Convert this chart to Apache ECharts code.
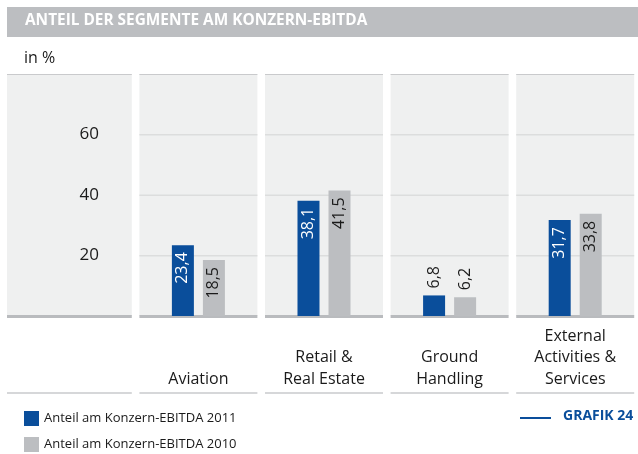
<!DOCTYPE html>
<html>
<head>
<meta charset="utf-8">
<title>Anteil der Segmente am Konzern-EBITDA</title>
<script src="https://cdn.jsdelivr.net/npm/echarts@6/dist/echarts.min.js"></script>
<style>
  html, body { margin: 0; padding: 0; background: #fff; }
  #chart { width: 638px; height: 454px; }
</style>
</head>
<body>
<div id="chart"></div>
<script>
// first category is the empty panel that holds the y tick labels
const categories = ['', 'Aviation', 'Retail &\nReal Estate', 'Ground\nHandling', 'External\nActivities &\nServices'];
const share2011 = [null, 23.4, 38.1, 6.8, 31.7];
const share2010 = [null, 18.5, 41.5, 6.2, 33.8];
const yTicks = [20, 40, 60];
const yMax = 80;

const FONT = '"Open Sans", "Noto Sans", sans-serif';
const BLUE = '#0a4e9b';
const GREY = '#bcbec1';
const PANEL = '#eff0f0';

const chart = echarts.init(document.getElementById('chart'));

function fmt(v) {
    return String(v).replace('.', ',');
}

// rotated value labels: inside the bar at the top, or above the bar if it is short
function barData(values, insideColor) {
    return values.map((v) => {
        if (v == null) return null;
        const small = v < 15;
        return {
            value: v,
            label: {
                show: true,
                rotate: 90,
                position: small ? 'top' : 'insideTop',
                align: small ? 'left' : 'right',
                verticalAlign: 'middle',
                distance: 7,
                color: small ? '#1a1a1a' : insideColor,
                fontFamily: FONT,
                fontSize: 16,
                formatter: (p) => fmt(p.value),
            },
        };
    });
}

function renderPanel(params, api) {
    const i = api.value(0);
    const top = api.coord([i, yMax]);
    const base = api.coord([i, 0]);
    const cx = top[0];
    let x0 = cx - 59;
    const x1 = cx + 59;
    if (i === 0) x0 = params.coordSys.x - 3;
    const w = x1 - x0;
    const children = [
        { type: 'rect', shape: { x: x0, y: top[1], width: w, height: base[1] - top[1] }, style: { fill: PANEL } },
        { type: 'rect', shape: { x: x0, y: top[1], width: w, height: 1 }, style: { fill: '#c9cacc' } },
        { type: 'rect', shape: { x: x0, y: base[1] - 1, width: w, height: 3 }, style: { fill: '#b9bbbe' } },
        { type: 'rect', shape: { x: x0, y: base[1] + 76, width: w, height: 2 }, style: { fill: '#d6d7d9' } },
    ];
    yTicks.forEach((t) => {
        const y = api.coord([i, t])[1];
        if (i === 0) {
            children.push({
                type: 'text',
                style: {
                    x: x0 + 92, y, text: String(t), align: 'right', verticalAlign: 'middle',
                    fill: '#1a1a1a', font: '17px ' + FONT,
                },
            });
        } else {
            children.push({
                type: 'rect', shape: { x: x0, y: y - 0.5, width: w, height: 1.5 }, style: { fill: '#dcdddd' },
            });
        }
    });
    return { type: 'group', children };
}

const option = {
    animation: false,
    grid: { left: 10, width: 632, top: 74, bottom: 138, containLabel: false },
    legend: {
        orient: 'vertical',
        left: 24,
        top: 411,
        padding: 0,
        itemWidth: 15,
        itemHeight: 15,
        itemGap: 11,
        icon: 'rect',
        selectedMode: false,
        textStyle: { fontFamily: FONT, fontSize: 13, color: '#1a1a1a' },
        data: ['Anteil am Konzern-EBITDA 2011', 'Anteil am Konzern-EBITDA 2010'],
    },
    xAxis: {
        type: 'category',
        data: categories,
        axisLine: { show: false },
        axisTick: { show: false },
        axisLabel: {
            interval: 0,
            fontFamily: FONT,
            fontSize: 16,
            lineHeight: 21.5,
            color: '#1a1a1a',
            verticalAlign: 'bottom',
            margin: 74,
        },
    },
    yAxis: {
        type: 'value',
        min: 0,
        max: yMax,
        interval: 20,
        show: false,
    },
    graphic: [
        { type: 'rect', left: 7, top: 7, shape: { width: 640, height: 30 }, style: { fill: '#bcbec1' } },
        {
            type: 'text', left: 25, top: 13,
            style: {
                text: 'ANTEIL DER SEGMENTE AM KONZERN-EBITDA', fill: '#fff',
                font: 'bold 15.4px ' + FONT,
            },
        },
        { type: 'text', left: 24, top: 50, style: { text: 'in %', fill: '#1a1a1a', font: '16px ' + FONT } },
        { type: 'rect', left: 520, top: 417, shape: { width: 31, height: 2 }, style: { fill: BLUE } },
        {
            type: 'text', left: 563, top: 409,
            style: { text: 'GRAFIK 24', fill: BLUE, font: 'bold 14px ' + FONT },
        },
    ],
    series: [
        {
            type: 'custom',
            silent: true,
            z: 0,
            clip: false,
            data: categories.map((c, i) => [i]),
            encode: { x: 0 },
            renderItem: renderPanel,
        },
        {
            name: 'Anteil am Konzern-EBITDA 2011',
            type: 'bar',
            z: 3,
            barWidth: 22,
            barGap: '41%',
            itemStyle: { color: BLUE },
            data: barData(share2011, '#fff'),
        },
        {
            name: 'Anteil am Konzern-EBITDA 2010',
            type: 'bar',
            z: 3,
            barWidth: 22,
            itemStyle: { color: GREY },
            data: barData(share2010, '#1a1a1a'),
        },
    ],
};

chart.setOption(option);
</script>
</body>
</html>
